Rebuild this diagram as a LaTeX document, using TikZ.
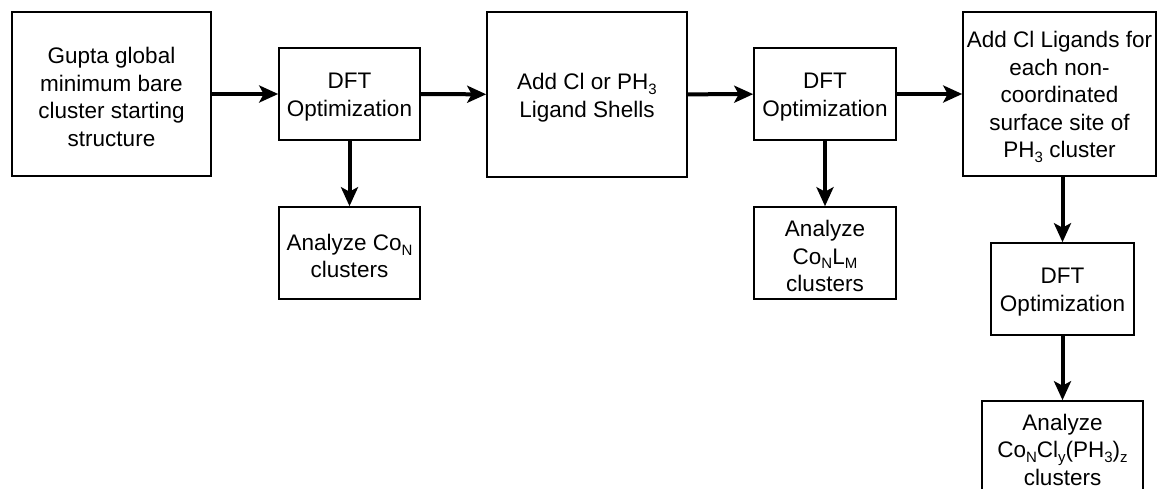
\documentclass[tikz,border=0pt]{standalone}
\usepackage{fontspec}
\setmainfont{Liberation Sans}
\usetikzlibrary{arrows.meta}
\newcommand{\lsub}[1]{\raisebox{-0.22em}{\fontsize{15}{15}\selectfont #1}}
\begin{document}
\begin{tikzpicture}[x=1pt,y=-1pt,
  box/.style={draw, line width=1.6pt, inner sep=0pt},
  txt/.style={align=center, inner sep=0pt, yshift=-3pt,
    font=\fontsize{22.5}{27.5}\selectfont},
  arr/.style={line width=4pt, -{Stealth[length=19pt,width=17pt,inset=4.5pt]}}]
\useasboundingbox (0,0) rectangle (1157,488);
\clip (0,0) rectangle (1157,488);
\node[box, minimum width=199pt, minimum height=164pt,
  label={[txt, name=t1]center:{Gupta global\\minimum bare\\cluster starting\\structure}}]
  (b1) at (111.5,94) {};
\node[box, minimum width=141pt, minimum height=92pt,
  label={[txt, name=t2]center:{DFT\\Optimization}}]
  (b2) at (349.5,94) {};
\node[box, minimum width=141pt, minimum height=92pt,
  label={[txt, name=t3]center:{Analyze Co\lsub{N}\\clusters}}]
  (b3) at (349.5,253) {};
\node[box, minimum width=200pt, minimum height=165pt,
  label={[txt, name=t4]center:{Add Cl or PH\lsub{3}\\Ligand Shells}}]
  (b4) at (587,94.5) {};
\node[box, minimum width=142pt, minimum height=92pt,
  label={[txt, name=t5]center:{DFT\\Optimization}}]
  (b5) at (825,94) {};
\node[box, minimum width=142pt, minimum height=92pt,
  label={[txt, name=t6]center:{Analyze\\Co\lsub{N}L\lsub{M}\\clusters}}]
  (b6) at (825,253) {};
\node[box, minimum width=193pt, minimum height=164pt,
  label={[txt, name=t7]center:{Add Cl Ligands for\\each non-\\coordinated\\surface site of\\PH\lsub{3} cluster}}]
  (b7) at (1059.5,94) {};
\node[box, minimum width=143pt, minimum height=92pt,
  label={[txt, name=t8]center:{DFT\\Optimization}}]
  (b8) at (1062.5,289) {};
\node[box, minimum width=161pt, minimum height=96pt,
  label={[txt, name=t9, yshift=2.5pt]center:{Analyze\\Co\lsub{N}Cl\lsub{y}(PH\lsub{3})\lsub{z}\\clusters}}]
  (b9) at (1062.5,449) {};
\draw[arr] (b1) -- (b2);
\draw[arr] (b2) -- (b4);
\draw[arr] (b4) -- (b5);
\draw[arr] (b5) -- (b7);
\draw[arr] (b2) -- (b3);
\draw[arr] (b5) -- (b6);
\draw[arr] (b8.north |- b7.south) -- (b8.north);
\draw[arr] (b8) -- (b9);
\end{tikzpicture}
\end{document}
